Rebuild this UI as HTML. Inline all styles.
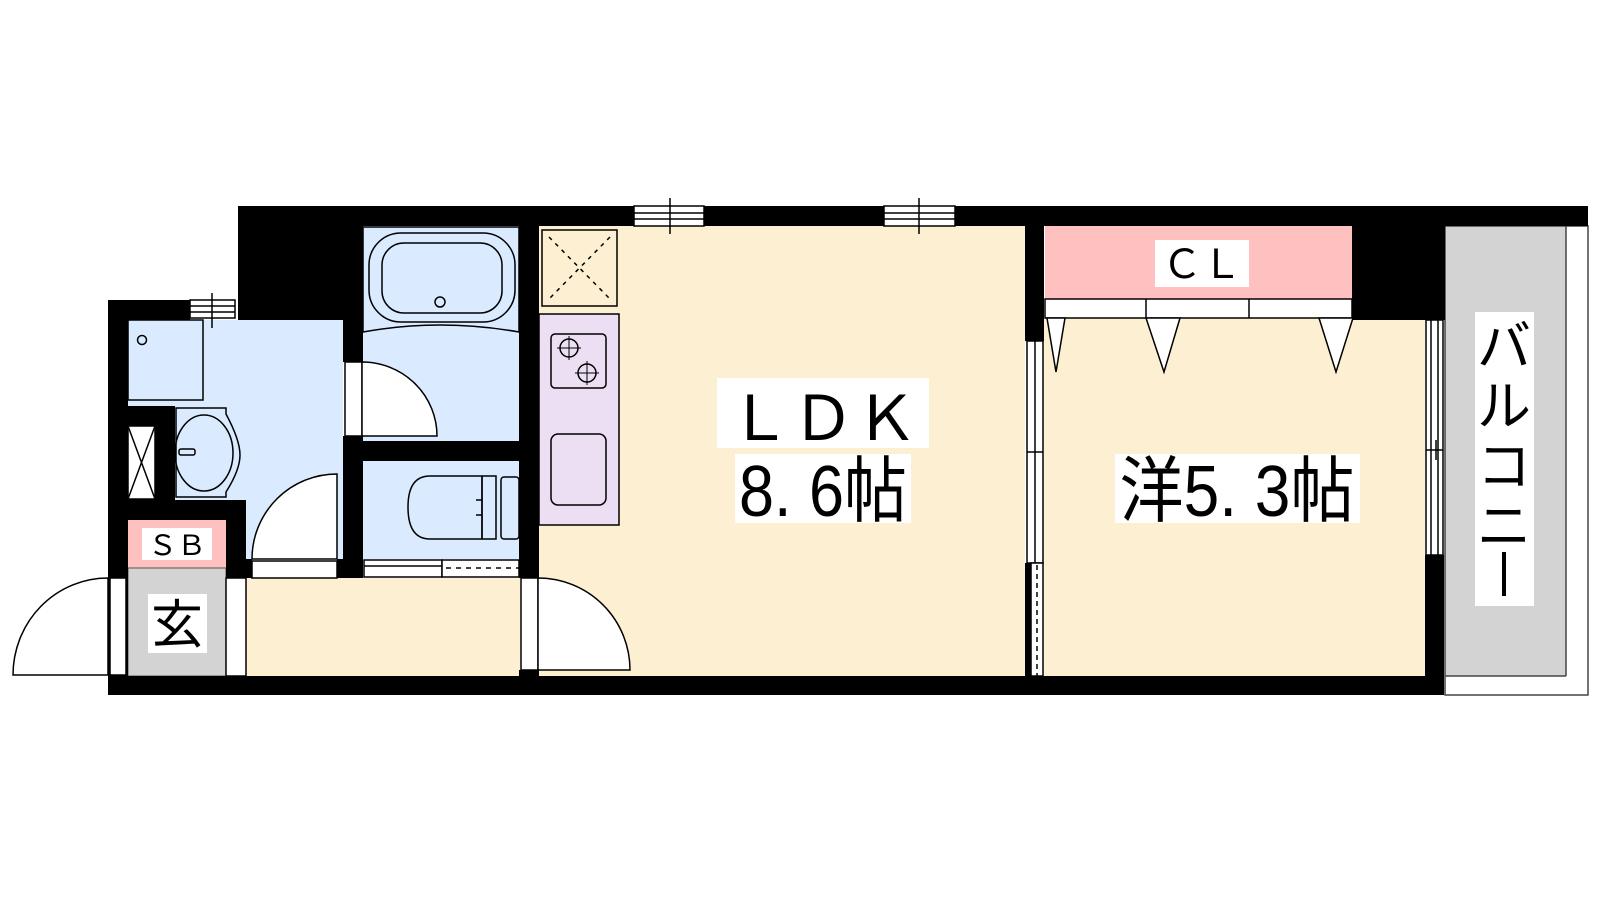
<!DOCTYPE html>
<html><head><meta charset="utf-8"><style>
html,body{margin:0;padding:0;background:#fff;}
svg{display:block}
text{font-family:"Liberation Sans","Noto Sans CJK JP",sans-serif;fill:#000}
</style></head><body>
<svg width="1600" height="900" viewBox="0 0 1600 900" xmlns="http://www.w3.org/2000/svg">
<rect x="128" y="320" width="215" height="239" fill="#dbebff"/>
<rect x="363" y="226" width="156" height="215" fill="#dbebff"/>
<rect x="363" y="461" width="156" height="98" fill="#dbebff"/>
<rect x="539" y="226" width="486" height="450" fill="#fdf0d2"/>
<rect x="246" y="578" width="274" height="98" fill="#fdf0d2"/>
<rect x="1044" y="318" width="381" height="358" fill="#fdf0d2"/>
<rect x="1045" y="226" width="307" height="73" fill="#ffc0c0"/>
<rect x="128" y="520" width="98" height="48" fill="#ffc0c0"/>
<rect x="128" y="568" width="98" height="108" fill="#d3d3d3" stroke="#555" stroke-width="1"/>
<rect x="1445" y="226" width="121" height="450" fill="#d3d3d3"/>
<rect x="1445" y="226" width="143" height="469" fill="none" stroke="#444" stroke-width="1.5"/>
<line x1="1566" y1="226" x2="1566" y2="676" stroke="#444" stroke-width="1.5"/>
<line x1="1445" y1="676" x2="1566" y2="676" stroke="#444" stroke-width="1.5"/>

<g fill="#000">
<rect x="238" y="206" width="1350" height="20"/>
<rect x="238" y="206" width="125" height="114"/>
<rect x="108" y="300" width="82" height="20"/>
<rect x="108" y="300" width="20" height="395"/>
<rect x="108" y="676" width="1336" height="19"/>
<rect x="343" y="206" width="20" height="156"/>
<rect x="343" y="436" width="20" height="142"/>
<rect x="343" y="441" width="176" height="20"/>
<rect x="519" y="206" width="20" height="372"/>
<rect x="519" y="670" width="20" height="8"/>
<rect x="128" y="406" width="47" height="94"/>
<rect x="128" y="500" width="118" height="20"/>
<rect x="226" y="500" width="20" height="78"/>
<rect x="246" y="559" width="6" height="19"/>
<rect x="337" y="559" width="26" height="19"/>
<rect x="1025" y="206" width="19" height="135"/>
<rect x="1025" y="563" width="6" height="113"/>
<rect x="1352" y="206" width="93" height="114"/>
<rect x="1425" y="555" width="19" height="121"/>
</g>

<g stroke="#000" stroke-width="1.5">
<rect x="634" y="206" width="70" height="20" fill="#fff"/>
<line x1="634" y1="213" x2="704" y2="213"/><line x1="634" y1="219" x2="704" y2="219"/>
<line x1="670" y1="198" x2="670" y2="234"/>
<rect x="884" y="206" width="71" height="20" fill="#fff"/>
<line x1="884" y1="213" x2="955" y2="213"/><line x1="884" y1="219" x2="955" y2="219"/>
<line x1="919" y1="198" x2="919" y2="234"/>
<rect x="190" y="300" width="45" height="18" fill="#fff"/>
<line x1="190" y1="306" x2="235" y2="306"/><line x1="190" y1="312" x2="235" y2="312"/>
<line x1="212" y1="293" x2="212" y2="328"/>
</g>

<g stroke="#000" stroke-width="1.5" fill="none">
<rect x="128" y="320" width="75" height="80" fill="#dbebff"/>
<circle cx="142" cy="340" r="4.5"/>
<rect x="128" y="426" width="27" height="73" fill="#fff"/>
<line x1="128" y1="426" x2="155" y2="499"/><line x1="155" y1="426" x2="128" y2="499"/>
<path d="M176 408 H226 V414 Q240 440 240 455 Q240 470 226 492 V497 H176 Z" fill="#dbebff"/>
<ellipse cx="204" cy="453" rx="29" ry="38"/>
<rect x="179" y="449" width="16" height="6" rx="2"/>
<rect x="252" y="561" width="85" height="17" fill="#fff"/>
<path d="M337 559 V474 A85 85 0 0 0 252 559 Z" fill="#fff"/>
<path d="M363 227 H519 V332 Q440 318 363 332 Z" fill="#dbebff"/>
<rect x="369" y="233" width="146" height="89" rx="32"/>
<rect x="382" y="243" width="120" height="70" rx="22"/>
<circle cx="440" cy="302" r="5"/>
<rect x="345" y="362" width="17" height="74" fill="#fff"/>
<path d="M362 362 V436 H437 A75 74 0 0 0 362 362 Z" fill="#fff"/>
<path d="M482 476 H430 Q408 476 408 507 Q408 539 430 539 H482 Z" fill="#dbebff"/>
<path d="M482 476 V539 M482 476 h14 v63 h-14 M476 500 h6 M476 515 h6" />
<rect x="501" y="477" width="18" height="62" rx="3"/>
<rect x="364" y="560" width="78" height="17" fill="#fff"/>
<line x1="364" y1="566" x2="442" y2="566"/>
<rect x="442" y="560" width="77" height="17" fill="#fff"/>
<line x1="446" y1="568" x2="519" y2="568" stroke-dasharray="5,5"/>
<rect x="110" y="578" width="16" height="97" fill="#fff"/>
<path d="M108 578 A95 97 0 0 0 13 675 H108 Z" fill="#fff"/>
<rect x="226" y="578" width="20" height="98" fill="#fff"/>
<rect x="521" y="578" width="17" height="92" fill="#fff"/>
<path d="M538 578 V670 H630 A92 92 0 0 0 538 578 Z" fill="#fff"/>
<rect x="542" y="230" width="75" height="76" fill="#fdf0d2"/>
<path d="M549 237 L610 299 M610 237 L549 299" stroke-dasharray="4,5"/>
<rect x="539" y="314" width="80" height="211" fill="#ecdff4"/>
<rect x="551" y="334" width="55" height="54" rx="4"/>
<circle cx="569" cy="348" r="9"/><circle cx="587" cy="373" r="9"/>
<path d="M569 336v24M557 348h24M587 361v24M575 373h24" stroke-width="1"/>
<rect x="551" y="434" width="55" height="71" rx="7"/>
<rect x="1027" y="341" width="16" height="222" fill="#fff"/>
<line x1="1035" y1="341" x2="1035" y2="563"/>
<line x1="1027" y1="452" x2="1043" y2="452"/>
<rect x="1031" y="563" width="12" height="113" fill="#fff"/>
<line x1="1037" y1="565" x2="1037" y2="676" stroke-dasharray="5,4"/>
<rect x="1045" y="299" width="307" height="19" fill="#fff"/>
<line x1="1146" y1="299" x2="1146" y2="318"/><line x1="1249" y1="299" x2="1249" y2="318"/>
<path d="M1047 318 L1065 318 L1056 372 Z M1146 318 L1180 318 L1164 372 Z M1319 318 L1353 318 L1336 372 Z" fill="#fff"/>
<rect x="1426" y="320" width="17" height="235" fill="#fff"/>
<line x1="1431" y1="320" x2="1431" y2="555"/><line x1="1438" y1="320" x2="1438" y2="555"/>
<line x1="1426" y1="450" x2="1443" y2="450"/><line x1="1436" y1="440" x2="1436" y2="460"/>
</g>

<rect x="142" y="528" width="70" height="32" fill="#fff"/>
<text x="177" y="555" font-size="28" text-anchor="middle" textLength="58" lengthAdjust="spacingAndGlyphs">ＳＢ</text>
<rect x="148" y="594" width="59" height="59" fill="#fff"/>
<text x="177" y="643" font-size="52" text-anchor="middle">玄</text>
<rect x="717" y="378" width="212" height="70" fill="#fff"/>
<text x="823" y="440" font-size="62" text-anchor="middle" textLength="190" lengthAdjust="spacingAndGlyphs">ＬＤＫ</text>
<rect x="735" y="454" width="176" height="69" fill="#fff"/>
<text x="823" y="516" font-size="72" text-anchor="middle" textLength="168" lengthAdjust="spacingAndGlyphs">8. 6帖</text>
<rect x="1155" y="240" width="94" height="47" fill="#fff"/>
<text x="1202" y="278" font-size="40" text-anchor="middle" textLength="80" lengthAdjust="spacingAndGlyphs">ＣＬ</text>
<rect x="1115" y="454" width="245" height="69" fill="#fff"/>
<text x="1237" y="516" font-size="72" text-anchor="middle" textLength="235" lengthAdjust="spacingAndGlyphs">洋5. 3帖</text>
<rect x="1475" y="312" width="59" height="294" fill="#fff"/>
<g font-size="54" text-anchor="middle">
<text x="1504" y="365">バ</text>
<text x="1504" y="425">ル</text>
<text x="1504" y="485">コ</text>
<text x="1504" y="545">ニ</text>
</g>
<rect x="1502" y="552" width="4" height="44" fill="#000"/>
</svg>
</body></html>
